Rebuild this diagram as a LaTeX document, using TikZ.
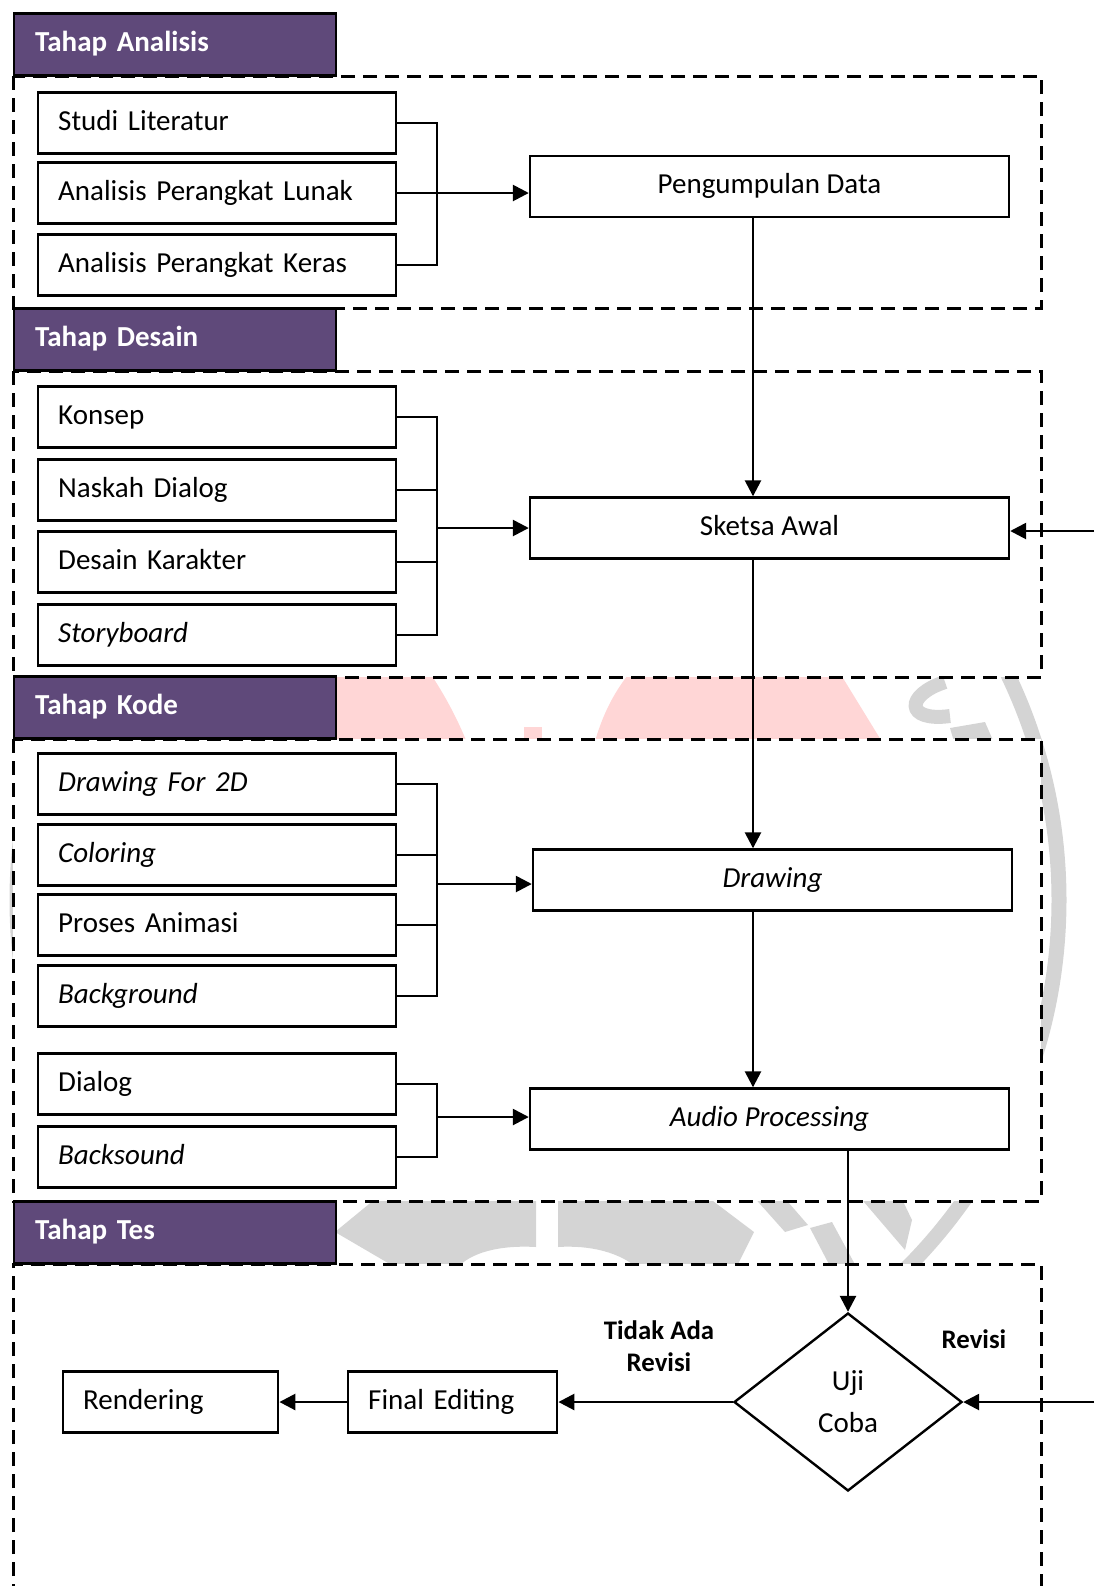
\documentclass[tikz,border=0pt]{standalone}
\usepackage{fontspec}
\setmainfont{Carlito}
\usetikzlibrary{arrows.meta,shapes.geometric}
\definecolor{tahapungu}{HTML}{5F497A}
\definecolor{wmpink}{HTML}{FFD6D6}
\definecolor{wmgrey}{HTML}{D4D4D4}

\begin{document}
\begin{tikzpicture}[x=0.5pt,y=-0.5pt,
  font=\fontsize{14.5}{17}\selectfont,
  tahap/.style={draw=black,line width=1.2pt,fill=tahapungu,text=white,font=\fontsize{14.5}{17}\selectfont\bfseries,
    anchor=west,minimum height=31pt,text width=140pt,inner xsep=10.5pt,align=left,text height=10pt,text depth=3pt},
  zona/.style={draw=black,line width=1.5pt,dash pattern=on 7pt off 4pt,fill=white},
  kotak/.style={draw=black,line width=1.2pt,fill=white,anchor=west,minimum height=30.5pt,
    text width=159pt,inner xsep=10pt,align=left,text height=10pt,text depth=3pt},
  kotakkecil/.style={kotak,text width=#1},
  proses/.style={draw=black,line width=1.2pt,fill=white,minimum width=239.5pt,minimum height=30.5pt,
    text height=10pt,text depth=3pt},
  garis/.style={line width=1.2pt},
  panah/.style={line width=1.3pt,-{Triangle[length=8pt,width=8pt]}},
  ket/.style={font=\fontsize{13.4}{16}\selectfont\bfseries,align=center}]

 \useasboundingbox (0,0) rectangle (1094,1586);
 \clip (0,0) rectangle (1094,1586);

 \draw[wmgrey,line width=7.5pt] (538,900) circle [radius=521];
 \fill[wmpink] (334,670) -- (428,670) .. controls (445,695) and (458,720) .. (468,745) -- (334,745) -- cycle;
 \fill[wmpink] (524,727) rectangle (542,745);
 \fill[wmpink] (632,670) -- (838,670) -- (884,745) -- (594,745) .. controls (602,715) and (615,690) .. (632,670) -- cycle;
 \draw[wmgrey,line width=7pt] (945,682) .. controls (905,695) and (905,722) .. (950,716);
 \fill[wmgrey] (950,728) -- (985,722) -- (995,745) -- (955,745) -- cycle;
 \fill[wmgrey] (335,1232) -- (380,1195) -- (536,1195) -- (536,1247) .. controls (500,1245) and (470,1252) .. (455,1270) -- (400,1270) -- cycle;
 \fill[wmgrey] (558,1195) -- (705,1195) -- (754,1232) -- (735,1270) -- (640,1270) .. controls (620,1252) and (590,1245) .. (558,1247) -- cycle;
 \fill[wmgrey] (752,1195) -- (782,1195) -- (808,1225) -- (785,1232) -- cycle;
 \fill[wmgrey] (810,1228) -- (832,1222) -- (858,1270) -- (832,1270) -- cycle;
 \fill[wmgrey] (858,1195) -- (900,1195) -- (912,1220) -- (905,1250) -- cycle;

 \draw[zona] (13,76) rectangle (1041,308);
 \draw[zona] (13,371) rectangle (1041,677);
 \draw[zona] (13,739) rectangle (1041,1201);
 \draw[zona] (13,1620) -- (13,1264) -- (1041,1264) -- (1041,1620);

 \node[tahap] (analisis) at (13,44.5) {Tahap Analisis};
 \node[tahap] (desain) at (13,339.5) {Tahap Desain};
 \node[tahap] (kode) at (13,707.5) {Tahap Kode};
 \node[tahap] (tes) at (13,1232.5) {Tahap Tes};

 \node[kotak] (studi) at (37,123) {Studi Literatur};
 \node[kotak] (lunak) at (37,193) {Analisis Perangkat Lunak};
 \node[kotak] (keras) at (37,265) {Analisis Perangkat Keras};
 \node[proses] (peng) at (769.5,186.5) {Pengumpulan Data};

 \node[kotak] (konsep) at (37,417) {Konsep};
 \node[kotak] (naskah) at (37,490) {Naskah Dialog};
 \node[kotak] (karakter) at (37,562) {Desain Karakter};
 \node[kotak] (story) at (37,635) {\textit{Storyboard}};
 \node[proses] (sketsa) at (769.5,528) {Sketsa Awal};

 \node[kotak] (gambar) at (37,784) {\textit{Drawing For 2D}};
 \node[kotak] (warna) at (37,855) {\textit{Coloring}};
 \node[kotak] (animasi) at (37,925) {Proses Animasi};
 \node[kotak] (latar) at (37,996) {\textit{Background}};
 \node[proses] (drawing) at (772.5,880) {\textit{Drawing}};

 \node[kotak] (dialog) at (37,1084) {Dialog};
 \node[kotak] (suara) at (37,1157) {\textit{Backsound}};
 \node[proses] (audio) at (769.5,1119) {\textit{Audio Processing}};

 \node[draw=black,line width=1.2pt,diamond,aspect=1.28,minimum width=114pt,minimum height=89pt,inner sep=0pt,
   align=center,font=\fontsize{14.5}{21}\selectfont] (uji) at (848,1402) {Uji\\Coba};
 \node[kotakkecil=84.5pt] (final) at (347,1402) {Final Editing};
 \node[kotakkecil=87.5pt] (render) at (62,1402) {Rendering};
 \node[ket] (tidak) at (659,1346) {Tidak Ada\\Revisi};
 \node[ket] (revisi) at (974,1339) {Revisi};

 \coordinate (jalurA) at (437,193);
 \coordinate (jalurB) at (437,528);
 \coordinate (jalurC) at (437,884);
 \coordinate (jalurD) at (437,1117);
 \coordinate (tengah) at (753,0);
 \coordinate (kanan) at (848,0);
 \coordinate (revA) at (1094,531);
 \coordinate (revB) at (1094,1402);

 \draw[garis] (studi.east) -| (jalurA) |- (keras.east);
 \draw[garis] (lunak.east) -- (jalurA);
 \draw[panah] (jalurA) -- (peng.west |- jalurA);

 \draw[garis] (konsep.east) -| (jalurB) |- (story.east);
 \draw[garis] (naskah.east) -- (naskah.east -| jalurB);
 \draw[garis] (karakter.east) -- (karakter.east -| jalurB);
 \draw[panah] (jalurB) -- (sketsa.west |- jalurB);

 \draw[garis] (gambar.east) -| (jalurC) |- (latar.east);
 \draw[garis] (warna.east) -- (warna.east -| jalurC);
 \draw[garis] (animasi.east) -- (animasi.east -| jalurC);
 \draw[panah] (jalurC) -- (drawing.west |- jalurC);

 \draw[garis] (dialog.east) -| (jalurD) |- (suara.east);
 \draw[panah] (jalurD) -- (audio.west |- jalurD);

 \draw[panah] (peng.south -| tengah) -- (sketsa.north -| tengah);
 \draw[panah] (sketsa.south -| tengah) -- (drawing.north -| tengah);
 \draw[panah] (drawing.south -| tengah) -- (audio.north -| tengah);
 \draw[panah] (audio.south -| kanan) -- (uji.north);

 \draw[panah] (revA) -- (sketsa.east |- revA);
 \draw[panah] (revB) -- (uji.east);
 \draw[panah] (uji.west) -- (final.east);
 \draw[panah] (final.west) -- (render.east);
\end{tikzpicture}
\end{document}
